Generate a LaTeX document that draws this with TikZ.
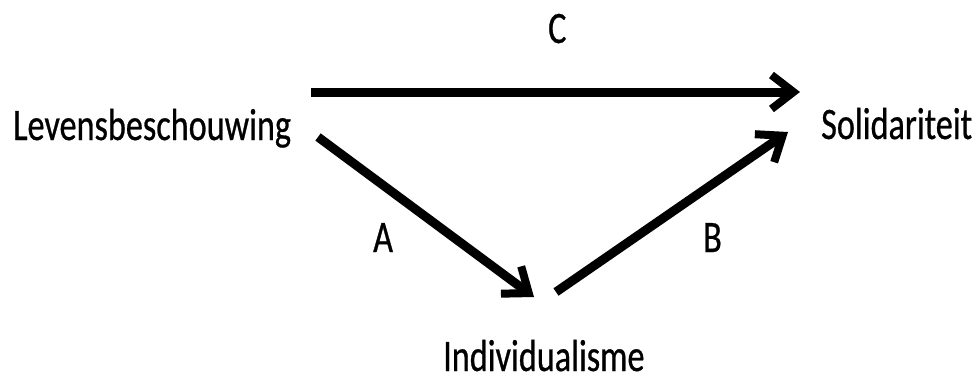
\documentclass[tikz,border=0pt]{standalone}
\usepackage{fontspec}
\setmainfont[FakeStretch=0.76,FakeBold=0.6]{Carlito}
\usetikzlibrary{arrows.meta}
\tikzset{
  lbl/.style={inner sep=0pt, anchor=base west, font=\fontsize{45}{54}\selectfont, text=black},
  conn/.style={line width=9pt, -{Straight Barb[length=22pt,width=34pt,line width=8pt]}}
}
\begin{document}
\begin{tikzpicture}[x=1pt,y=-1pt]
\useasboundingbox (0,0) rectangle (978,380);
\node[lbl] (lev) at (13,140) {Levensbeschouwing};
\node[lbl] (sol) at (821,139) {Solidariteit};
\node[lbl, text depth=0pt] (ind) at (443,371) {Individualisme};
\node[lbl] (lc) at (548,43) {C};
\node[lbl] (la) at (373,252) {A};
\node[lbl] (lb) at (703,252) {B};
\coordinate (c1) at (311,92);
\coordinate (c2) at (800,92);
\coordinate (a1) at (318,137);
\coordinate (a2) at (534,297);
\coordinate (b1) at (556,292);
\coordinate (b2) at (788,132);
\draw[conn] (c1) -- (c2);
\draw[conn] (a1) -- (a2);
\draw[conn] (b1) -- (b2);
\end{tikzpicture}
\end{document}
